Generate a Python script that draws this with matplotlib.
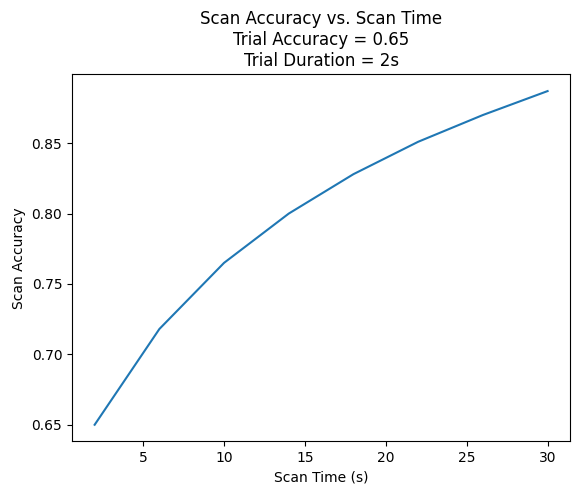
import matplotlib
matplotlib.use("Agg")
import matplotlib.pyplot as plt

scan_time = [2, 6, 10, 14, 18, 22, 26, 30]
scan_accuracy = [0.650, 0.718, 0.765, 0.800, 0.828, 0.851, 0.870, 0.887]

fig, ax = plt.subplots(figsize=(5.76, 4.96), dpi=100)
ax.plot(scan_time, scan_accuracy)
ax.set_title("Scan Accuracy vs. Scan Time\nTrial Accuracy = 0.65\nTrial Duration = 2s")
ax.set_xlabel("Scan Time (s)")
ax.set_ylabel("Scan Accuracy")
fig.subplots_adjust(left=0.125, right=0.99, top=0.85, bottom=0.11)
fig.savefig("out.png")
